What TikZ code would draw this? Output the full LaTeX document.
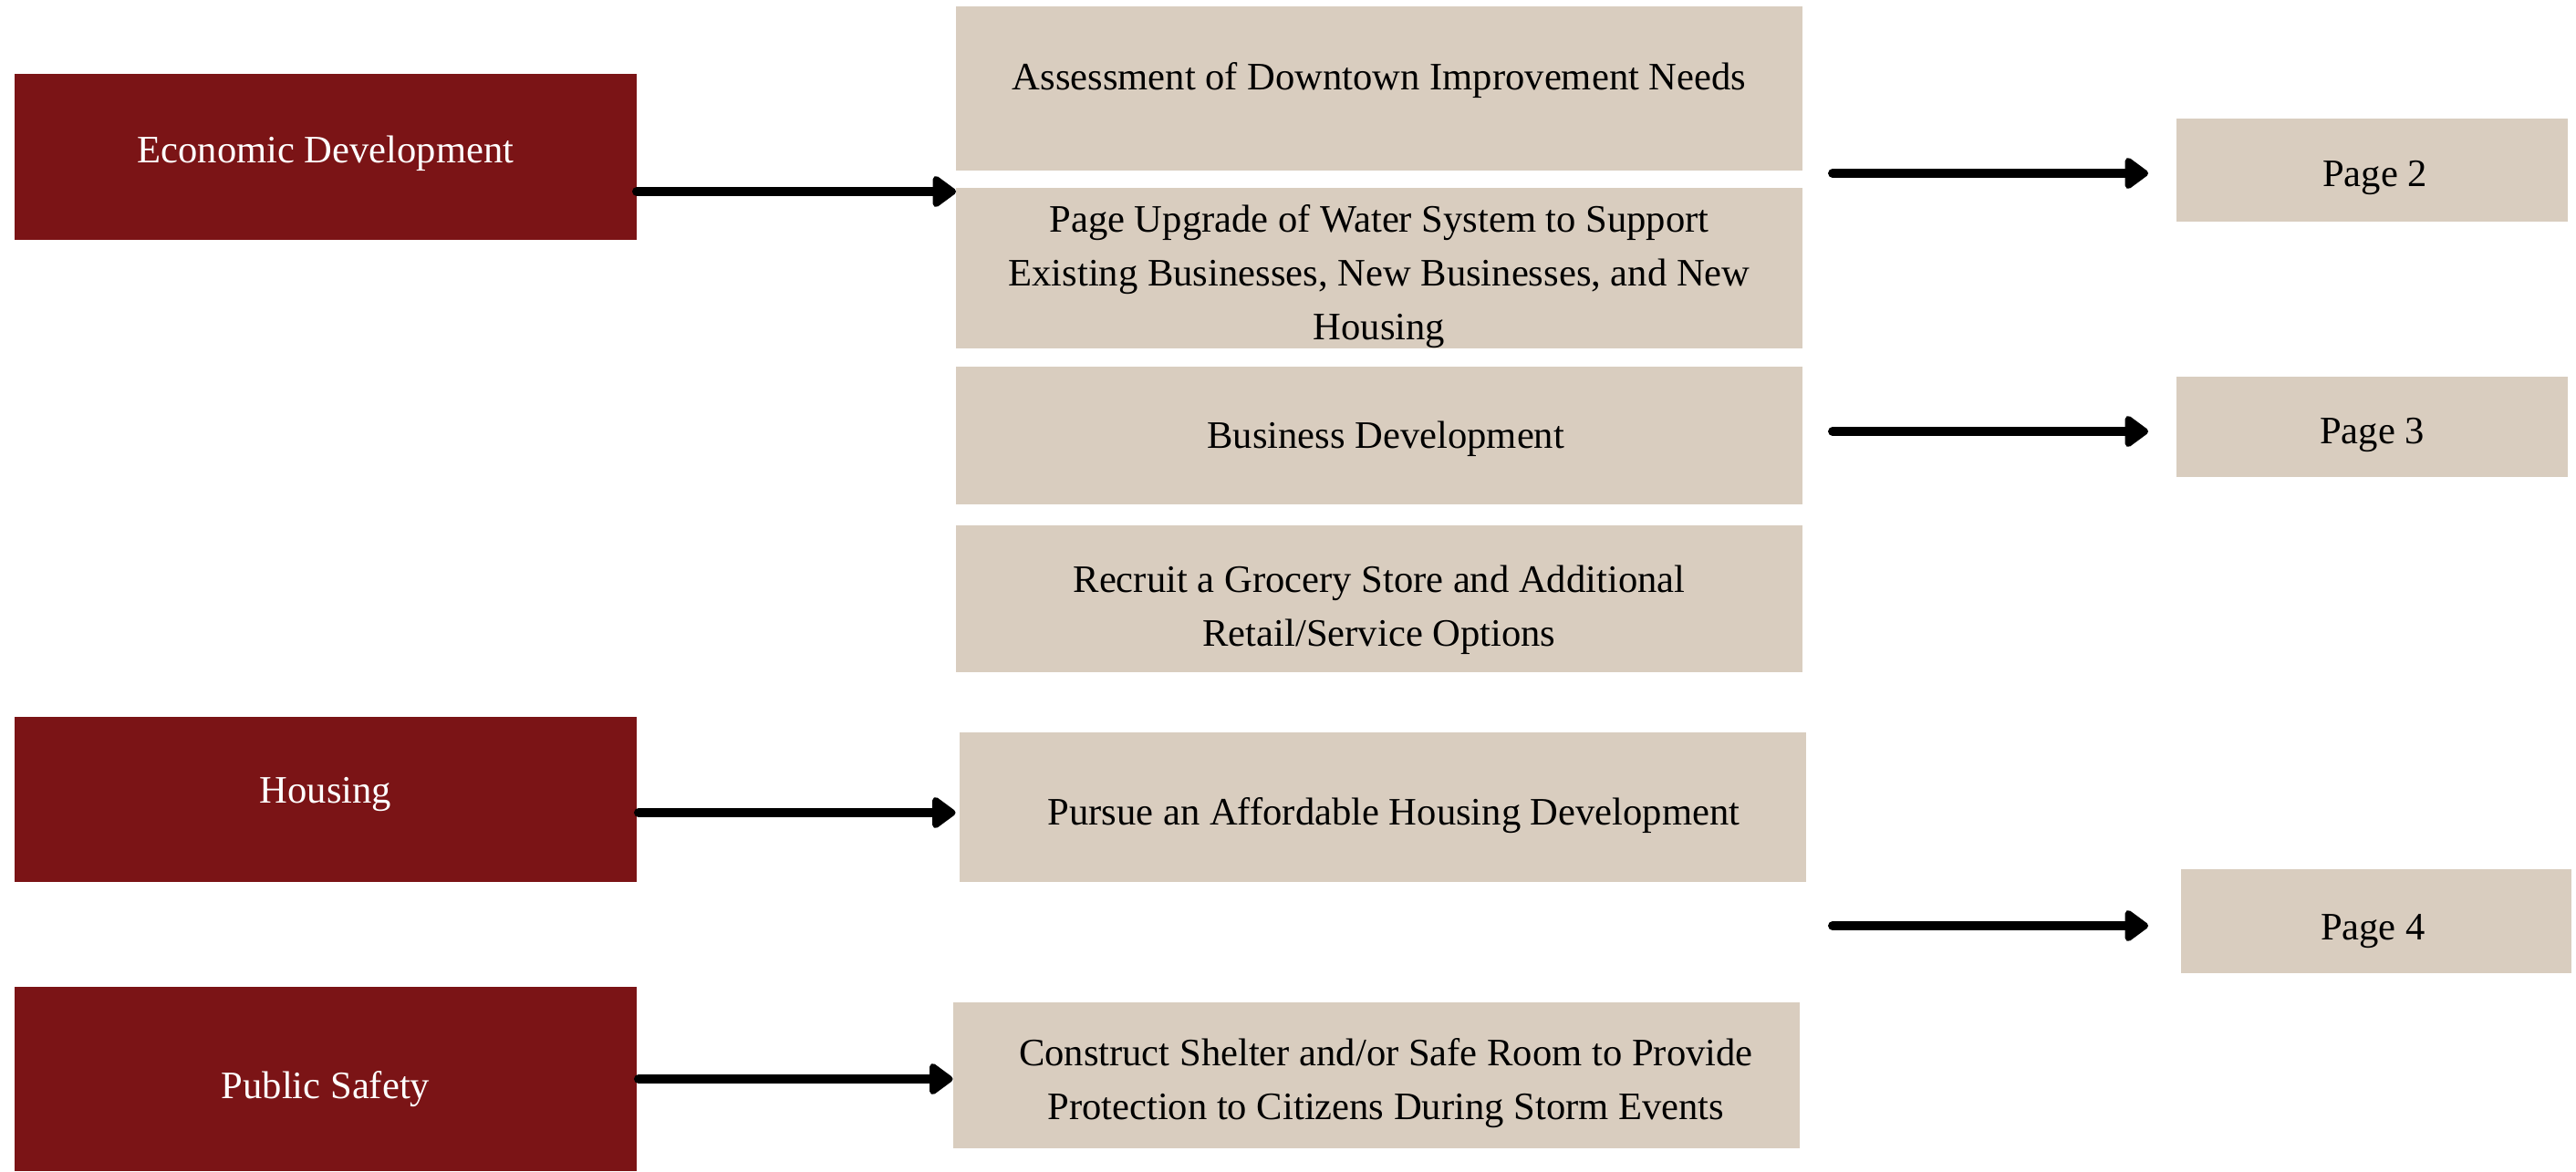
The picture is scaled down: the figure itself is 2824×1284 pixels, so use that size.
\documentclass[tikz,border=0pt]{standalone}
\usepackage{fontspec}
\setmainfont{Liberation Serif}
\usetikzlibrary{arrows.meta}
\definecolor{wine}{HTML}{7B1416}
\definecolor{sand}{HTML}{D9CDBF}
\begin{document}
\begin{tikzpicture}[x=0.5pt,y=-0.5pt,
  base/.style={inner sep=0pt, outer sep=0pt},
  redbox/.style={base, fill=wine, minimum width=341pt},
  sandbox/.style={base, fill=sand},
  colbox/.style={sandbox, minimum width=464pt},
  pagebox/.style={sandbox, minimum width=214.5pt},
  lbl/.style={inner sep=0pt, align=center, font=\fontsize{21.3}{29.5}\selectfont, text=black},
  wlbl/.style={lbl, text=white},
  arr/.style={line width=5pt, line cap=round, -{Triangle[length=14pt,width=19.5pt,round]}}
]
\useasboundingbox (0,0) rectangle (2824,1284);
% left column
\node[redbox, minimum height=91pt] (econ) at (357,172) {};
\node[redbox, minimum height=90.5pt] (hous) at (357,876.5) {};
\node[redbox, minimum height=101pt] (safe) at (357,1183) {};
\node[wlbl] (econT) at ([yshift=1.8pt]econ.center) {Economic Development};
\node[wlbl] (housT) at ([yshift=2.7pt]hous.center) {Housing};
\node[wlbl] (safeT) at ([yshift=-5.4pt]safe.center) {Public Safety};
% middle column
\node[colbox, minimum height=90pt] (A) at (1512,97) {};
\node[colbox, minimum height=88pt] (B) at (1512,294) {};
\node[colbox, minimum height=75.5pt] (C) at (1512,477.5) {};
\node[colbox, minimum height=80.5pt] (D) at (1512,656.5) {};
\node[colbox, minimum height=82pt] (E) at (1515.5,885) {};
\node[colbox, minimum height=80pt] (F) at (1508.5,1179) {};
\node[lbl] (AT) at ([yshift=4.5pt]A.center) {Assessment of Downtown Improvement Needs};
\node[lbl] (BT) at ([yshift=-4.5pt]B.center) {Page Upgrade of Water System to Support\\Existing Businesses, New Businesses, and New\\Housing};
\node[lbl] (CT) at ([xshift=3.6pt,yshift=-1.8pt]C.center) {Business Development};
\node[lbl] (DT) at ([yshift=-6.3pt]D.center) {Recruit a Grocery Store and Additional\\Retail/Service Options};
\node[lbl] (ET) at ([xshift=6.3pt,yshift=-4.5pt]E.center) {Pursue an Affordable Housing Development};
\node[lbl] (FT) at ([xshift=5.4pt,yshift=-4.5pt]F.center) {Construct Shelter and/or Safe Room to Provide\\Protection to Citizens During Storm Events};
% right column
\node[pagebox, minimum height=56.5pt] (P2) at (2600.5,186.5) {};
\node[pagebox, minimum height=55pt] (P3) at (2600.5,468) {};
\node[pagebox, minimum height=57pt, minimum width=214pt] (P4) at (2605,1010) {};
\node[lbl] (P2T) at ([xshift=1.5pt,yshift=-4pt]P2.center) {Page 2};
\node[lbl] (P3T) at ([yshift=-4.5pt]P3.center) {Page 3};
\node[lbl] (P4T) at ([xshift=-1.8pt,yshift=-5.4pt]P4.center) {Page 4};
% arrows left -> middle
\coordinate (a1s) at ([yshift=-19pt]econ.east);
\draw[arr] (a1s) -- (a1s -| B.west);
\coordinate (a2s) at ([xshift=1pt,yshift=-7.25pt]hous.east);
\draw[arr, shorten >=2pt] (a2s) -- (a2s -| E.west);
\draw[arr] ([xshift=1pt]safe.east) -- (safe.east -| F.west);
% arrows middle -> pages
\coordinate (p2s) at ([xshift=-188.5pt,yshift=-1.75pt]P2.west);
\coordinate (p2e) at ([xshift=-15.5pt,yshift=-1.75pt]P2.west);
\draw[arr] (p2s) -- (p2e);
\coordinate (p3s) at ([xshift=-188.5pt,yshift=-2.5pt]P3.west);
\coordinate (p3e) at ([xshift=-15.5pt,yshift=-2.5pt]P3.west);
\draw[arr] (p3s) -- (p3e);
\coordinate (p4s) at ([xshift=-191pt,yshift=-2.5pt]P4.west);
\coordinate (p4e) at ([xshift=-18pt,yshift=-2.5pt]P4.west);
\draw[arr] (p4s) -- (p4e);
\end{tikzpicture}
\end{document}
